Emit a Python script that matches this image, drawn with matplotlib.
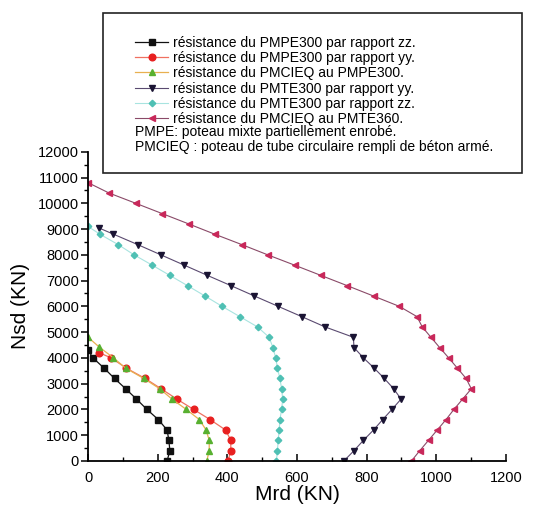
import numpy as np
import matplotlib
matplotlib.use("Agg")
import matplotlib.pyplot as plt
from matplotlib.ticker import MultipleLocator
from matplotlib.patches import Rectangle

plt.rcParams['font.family'] = ['Liberation Sans', 'DejaVu Sans']

# PMPE300 zz
mrd_pmpe_zz = [0, 14, 46, 76, 108, 139, 169, 202, 227, 232, 235, 227]
nsd_pmpe_zz = [4300, 4000, 3600, 3200, 2800, 2400, 2000, 1600, 1200, 800, 400, 0]
# PMPE300 yy
mrd_pmpe_yy = [32, 66, 110, 164, 210, 255, 303, 351, 395, 410, 410, 402]
nsd_pmpe_yy = [4200, 4000, 3600, 3200, 2800, 2400, 2000, 1600, 1200, 800, 400, 0]
# PMCIEQ au PMPE300
mrd_cieq_pmpe = [0, 32, 73, 108, 160, 206, 241, 282, 320, 339, 348, 348, 341]
nsd_cieq_pmpe = [4800, 4420, 4000, 3600, 3200, 2800, 2400, 2000, 1600, 1200, 800, 400, 0]
# PMTE300 yy
mrd_pmte_yy = [30, 73, 142, 209, 276, 343, 411, 478, 546, 614, 681, 762, 764, 791, 822,
               851, 878, 899, 873, 846, 820, 791, 764, 735]
nsd_pmte_yy = [9050, 8800, 8400, 8000, 7600, 7200, 6800, 6400, 6000, 5600, 5200, 4800, 4400,
               4000, 3600, 3200, 2800, 2400, 2000, 1600, 1200, 800, 400, 0]
# PMTE300 zz
mrd_pmte_zz = [0, 34, 86, 132, 184, 235, 286, 336, 385, 436, 487, 520, 531, 539, 544,
               551, 556, 559, 556, 551, 549, 546, 544, 541]
nsd_pmte_zz = [9100, 8800, 8400, 8000, 7600, 7200, 6800, 6400, 6000, 5600, 5200, 4800, 4400,
               4000, 3600, 3200, 2800, 2400, 2000, 1600, 1200, 800, 400, 0]
# PMCIEQ au PMTE360
mrd_cieq_pmte = [0, 60, 137, 213, 289, 364, 441, 516, 593, 669, 745, 820, 894, 945,
                 960, 985, 1010, 1036, 1061, 1086, 1101, 1076, 1051, 1028, 1003, 978, 953, 929]
nsd_cieq_pmte = [10800, 10400, 10000, 9600, 9200, 8800, 8400, 8000, 7600, 7200, 6800, 6400,
                 6000, 5600, 5200, 4800, 4400, 4000, 3600, 3200, 2800, 2400, 2000, 1600,
                 1200, 800, 400, 0]

labels = ["résistance du PMPE300 par rapport zz.",
          "résistance du PMPE300 par rapport yy.",
          "résistance du PMCIEQ au PMPE300.",
          "résistance du PMTE300 par rapport yy.",
          "résistance du PMTE300 par rapport zz.",
          "résistance du PMCIEQ au PMTE360."]
notes = ["PMPE: poteau mixte partiellement enrobé.",
         "PMCIEQ : poteau de tube circulaire rempli de béton armé."]

fig = plt.figure(figsize=(5.54, 5.11), dpi=100)
ax = fig.add_axes([0.159, 0.098, 0.754, 0.605])

ax.plot(mrd_pmpe_zz, nsd_pmpe_zz, color='#111111', lw=0.9, marker='s', ms=4,
        mfc='#111111', mec='#111111', label=labels[0])
ax.plot(mrd_pmpe_yy, nsd_pmpe_yy, color='#f07060', lw=0.9, marker='o', ms=4.8,
        mfc='#e82020', mec='#e82020', label=labels[1])
ax.plot(mrd_cieq_pmpe, nsd_cieq_pmpe, color='#e8b050', lw=0.9, marker='^', ms=4.5,
        mfc='#58b030', mec='#58b030', label=labels[2])
ax.plot(mrd_pmte_yy, nsd_pmte_yy, color='#5a4a70', lw=0.8, marker='v', ms=4.5,
        mfc='#1a1433', mec='#1a1433', label=labels[3])
ax.plot(mrd_pmte_zz, nsd_pmte_zz, color='#a8e4e0', lw=0.8, marker='D', ms=3.3,
        mfc='#4fc0b4', mec='#4fc0b4', label=labels[4])
ax.plot(mrd_cieq_pmte, nsd_cieq_pmte, color='#8a4a68', lw=0.8, marker='<', ms=4.5,
        mfc='#c8285a', mec='#c8285a', label=labels[5])

ax.set_xlim(0, 1200)
ax.set_ylim(0, 12000)
ax.xaxis.set_major_locator(MultipleLocator(200))
ax.xaxis.set_minor_locator(MultipleLocator(100))
ax.yaxis.set_major_locator(MultipleLocator(1000))
ax.yaxis.set_minor_locator(MultipleLocator(500))
for s in ['top', 'right']:
    ax.spines[s].set_visible(False)
for s in ['left', 'bottom']:
    ax.spines[s].set_linewidth(1.3)
ax.tick_params(axis='both', which='major', length=5, width=1.1, labelsize=10.5)
ax.tick_params(axis='both', which='minor', length=3, width=1.0)
ax.tick_params(axis='y', which='major', pad=1.5)
ax.tick_params(axis='x', which='both', direction='in')
ax.tick_params(axis='x', which='major', pad=7)
ax.set_xlabel("Mrd (KN)", fontsize=15, labelpad=0)
ax.set_ylabel("Nsd (KN)", fontsize=15, labelpad=6)

# legend box
box = Rectangle((0.186, 0.661), 0.756, 0.314, transform=fig.transFigure,
                facecolor='white', edgecolor='#222222', lw=1.2, zorder=5)
fig.patches.append(box)
leg = fig.legend(loc='upper left', bbox_to_anchor=(0.2437, 0.93), frameon=False,
                 fontsize=10, handlelength=2.4, handletextpad=0.3, labelspacing=0.09,
                 borderaxespad=0, borderpad=0)
leg.set_zorder(6)
fig.text(0.244, 0.742, notes[0], fontsize=10, ha='left', va='center', zorder=7)
fig.text(0.244, 0.713, notes[1], fontsize=10, ha='left', va='center', zorder=7)

fig.savefig("out.png", dpi=100)
